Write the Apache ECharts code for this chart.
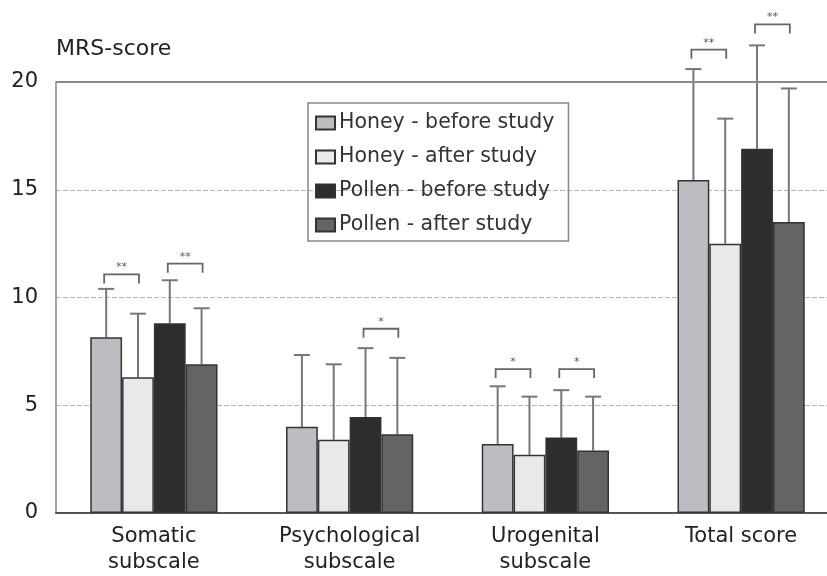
<!DOCTYPE html>
<html>
<head>
<meta charset="utf-8">
<script src="https://cdn.jsdelivr.net/npm/echarts@6/dist/echarts.min.js"></script>
<style>html,body{margin:0;padding:0;background:#fff;overflow:hidden;width:827px;height:576px;}#c{width:839px;height:576px;}</style>
</head>
<body>
<div id="c"></div>
<script>
// ---- data ----
const categories = ['Somatic\nsubscale', 'Psychological\nsubscale', 'Urogenital\nsubscale', 'Total score'];
const seriesNames = ['Honey - before study', 'Honey - after study', 'Pollen - before study', 'Pollen - after study'];
const honeyBefore = [8.15, 4.0, 3.2, 15.45];
const honeyAfter = [6.3, 3.4, 2.7, 12.5];
const pollenBefore = [8.8, 4.45, 3.5, 16.9];
const pollenAfter = [6.9, 3.65, 2.9, 13.5];
const honeyBeforeSD = [2.25, 3.33, 2.68, 5.15];
const honeyAfterSD = [2.95, 3.5, 2.7, 5.8];
const pollenBeforeSD = [2.0, 3.2, 2.2, 4.8];
const pollenAfterSD = [2.6, 3.55, 2.5, 6.2];
const yTicks = [0, 5, 10, 15, 20];
// significance brackets: [category index, bar A, bar B, level, label]
const brackets = [
  [0, 0, 1, 11.07, '**'],
  [0, 2, 3, 11.57, '**'],
  [1, 2, 3, 8.55, '*'],
  [2, 0, 1, 6.68, '*'],
  [2, 2, 3, 6.68, '*'],
  [3, 0, 1, 21.5, '**'],
  [3, 2, 3, 22.67, '**']
];

const means = [honeyBefore, honeyAfter, pollenBefore, pollenAfter];
const sds = [honeyBeforeSD, honeyAfterSD, pollenBeforeSD, pollenAfterSD];
const colors = ['#bcbdc1', '#e8e9eb', '#2e2d2e', '#646466'];
const GAP = 0.35;
const NB = 4;

function barCenter(api, cat, idx) {
  const c = api.coord([cat, 0]);
  const bw = api.size([1, 0])[0];
  const w = bw * (1 - GAP) / NB;
  return c[0] - w * NB / 2 + w * (idx + 0.5);
}

const errData = [];
means.forEach((m, s) => m.forEach((v, i) => errData.push([i, s, v, v + sds[s][i]])));

const font = '"DejaVu Sans", "Liberation Sans", Arial, sans-serif';

const series = means.map((m, s) => ({
  name: seriesNames[s],
  type: 'bar',
  data: m,
  barGap: '0%',
  barCategoryGap: (GAP * 100) + '%',
  itemStyle: { color: colors[s], borderColor: '#333', borderWidth: 1.5 },
  z: 3,
  markLine: s === 0 ? {
    silent: true, symbol: 'none', label: { show: false },
    lineStyle: { color: '#8a8a8a', width: 2, type: 'solid' },
    data: [{ yAxis: yTicks[yTicks.length - 1] }]
  } : undefined
}));

series.push({
  type: 'custom',
  name: 'err',
  clip: false,
  z: 2,
  data: errData,
  renderItem: function (params, api) {
    const cat = api.value(0), idx = api.value(1);
    const x = barCenter(api, cat, idx);
    const p0 = api.coord([cat, api.value(2)]);
    const p1 = api.coord([cat, api.value(3)]);
    const cap = 8;
    const st = { stroke: '#777', lineWidth: 2 };
    return {
      type: 'group',
      children: [
        { type: 'line', shape: { x1: x, y1: p0[1], x2: x, y2: p1[1] }, style: st },
        { type: 'line', shape: { x1: x - cap, y1: p1[1], x2: x + cap, y2: p1[1] }, style: st }
      ]
    };
  }
});

series.push({
  type: 'custom',
  name: 'sig',
  clip: false,
  z: 4,
  data: brackets,
  renderItem: function (params, api) {
    const cat = api.value(0);
    const xa = barCenter(api, cat, api.value(1)) - 2;
    const xb = barCenter(api, cat, api.value(2)) + 1;
    const y = api.coord([cat, api.value(3)])[1];
    const drop = 9;
    const st = { stroke: '#666', lineWidth: 1.8, fill: null };
    return {
      type: 'group',
      children: [
        { type: 'polyline', shape: { points: [[xa, y + drop], [xa, y], [xb, y], [xb, y + drop]] }, style: st },
        { type: 'text', style: { text: brackets[params.dataIndex][4], x: (xa + xb) / 2, y: y - 7, align: 'center', verticalAlign: 'middle', fill: '#555', font: '11px ' + font } }
      ]
    };
  }
});

const chart = echarts.init(document.getElementById('c'), null, { renderer: 'canvas' });
chart.setOption({
  backgroundColor: '#fff',
  animation: false,
  textStyle: { fontFamily: font },
  grid: { left: 56, top: 82, right: 0, bottom: 55, containLabel: false },
  legend: {
    data: seriesNames,
    orient: 'vertical',
    left: 308, top: 103,
    padding: [8, 14, 4, 7],
    itemGap: 10,
    itemWidth: 19, itemHeight: 13,
    icon: 'rect',
    borderColor: '#888', borderWidth: 1.5,
    textStyle: { fontSize: 20.5, color: '#333', fontFamily: font, lineHeight: 24, padding: [0, 0, 0, -1] }
  },
  xAxis: {
    type: 'category',
    data: categories,
    axisLine: { lineStyle: { color: '#555', width: 2 } },
    axisTick: { show: false },
    axisLabel: { fontSize: 21, color: '#222', lineHeight: 26, margin: 11, fontFamily: font, interval: 0 }
  },
  yAxis: {
    type: 'value',
    min: yTicks[0], max: yTicks[yTicks.length - 1], interval: 5,
    name: 'MRS-score',
    nameLocation: 'end',
    nameGap: 22,
    nameTextStyle: { fontSize: 22, color: '#222', align: 'left', fontFamily: font },
    axisLine: { show: true, lineStyle: { color: '#888', width: 1.5 } },
    axisTick: { show: false },
    axisLabel: { fontSize: 21, color: '#222', margin: 18, fontFamily: font },
    splitLine: { show: true, lineStyle: { color: '#b5b5b5', type: [5, 2], width: 1 } }
  },
  series: series
});
</script>
</body>
</html>
